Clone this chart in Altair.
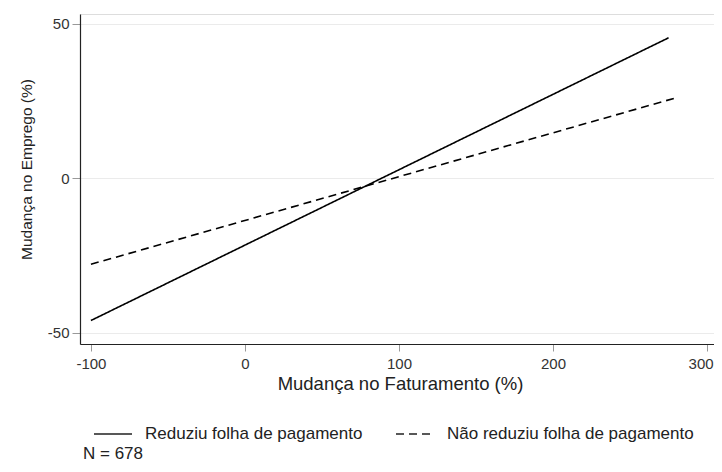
import altair as alt
import pandas as pd

# Data (fitted lines, endpoints)
grupo = ["Reduziu folha de pagamento", "Reduziu folha de pagamento",
         "Não reduziu folha de pagamento", "Não reduziu folha de pagamento"]
faturamento = [-100, 275, -100, 280]
emprego = [-46.1, 45.4, -27.9, 26.0]

categorias = ["Reduziu folha de pagamento", "Não reduziu folha de pagamento"]
x_ticks = [-100, 0, 100, 200, 300]
y_ticks = [-50, 0, 50]
nota = ["N = 678"]

df = pd.DataFrame({"grupo": grupo, "faturamento": faturamento, "emprego": emprego})
df_nota = pd.DataFrame({"nota": nota})

FONT = "Liberation Sans"

linhas = alt.Chart(df).mark_line(color="black", strokeWidth=1.6).encode(
    x=alt.X("faturamento:Q",
            scale=alt.Scale(domain=[-107.1, 304.5], nice=False, zero=False),
            axis=alt.Axis(values=x_ticks, title="Mudança no Faturamento (%)",
                          labelExpr="'' + datum.value",
                          labelFlush=9, labelFlushOffset=6,
                          grid=False, domainColor="#222", domainWidth=1.2,
                          tickColor="#999", tickSize=7, tickWidth=1,
                          labelFont=FONT, labelFontSize=15, labelColor="#333",
                          labelPadding=5,
                          titleFont=FONT, titleFontSize=18.5, titleFontWeight="normal",
                          titleColor="#222", titleX=320, titleY=45,
                          titleBaseline="alphabetic", titleAnchor="middle")),
    y=alt.Y("emprego:Q",
            scale=alt.Scale(domain=[-53.7, 53.1], nice=False, zero=False),
            axis=alt.Axis(values=y_ticks, title="Mudança no Emprego (%)",
                          labelExpr="'' + datum.value",
                          grid=True, gridColor="#ebebeb", gridWidth=1,
                          domainColor="#222", domainWidth=1.2,
                          tickColor="#999", tickSize=8, tickWidth=1,
                          labelFont=FONT, labelFontSize=15, labelColor="#333",
                          labelPadding=3,
                          titleFont=FONT, titleFontSize=15.5, titleFontWeight="normal",
                          titleColor="#222", titleX=-48.5, titleY=155,
                          titleAngle=-90, titleBaseline="alphabetic",
                          titleAlign="center")),
    strokeDash=alt.StrokeDash("grupo:N",
                              scale=alt.Scale(domain=categorias, range=[[1, 0], [8, 5]]),
                              legend=alt.Legend(title=None, orient="none",
                                                direction="horizontal",
                                                legendX=13, legendY=400,
                                                symbolType="stroke", symbolSize=1444,
                                                symbolStrokeWidth=1.3,
                                                symbolStrokeColor="#222",
                                                labelFont=FONT, labelFontSize=17,
                                                labelColor="#222", labelOffset=12,
                                                labelLimit=0,
                                                columnPadding=30)),
    detail="grupo:N",
)

texto = alt.Chart(df_nota).mark_text(
    font=FONT, fontSize=17, color="#222", align="left", baseline="middle"
).encode(
    text="nota:N",
    x=alt.value(3),
    y=alt.value(440),
)

chart = alt.layer(linhas, texto).properties(
    width=634, height=330,
    autosize=alt.AutoSizeParams(type="none"),
    padding={"left": 72, "top": 6, "right": 0, "bottom": 120},
).configure_view(stroke=None).configure(background="white")

chart.save("out.html", embed_options={"renderer": "svg", "actions": False})
